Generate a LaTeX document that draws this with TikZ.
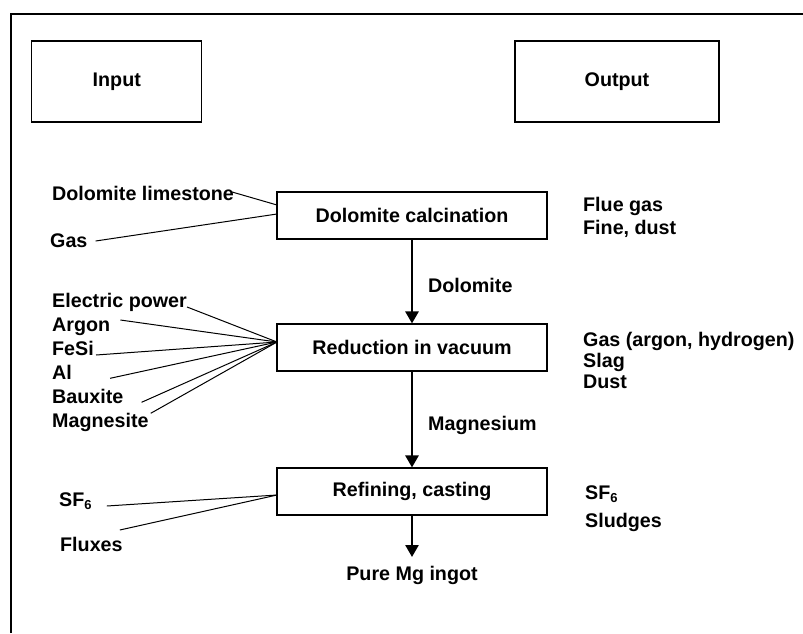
\documentclass[tikz,border=0pt]{standalone}
\usepackage{fontspec}
\setmainfont{Liberation Sans}
\usetikzlibrary{arrows.meta}
\newcommand{\subsix}{\raisebox{-3pt}{\fontsize{13}{13}\selectfont 6}}
\begin{document}
\begin{tikzpicture}[x=1pt,y=-1pt,
  every node/.style={font=\fontsize{19.7}{22}\selectfont\bfseries, inner sep=0pt},
  headbox/.style={draw, line width=1.1pt, minimum height=81pt},
  procbox/.style={draw, line width=1.1pt, minimum width=270pt, minimum height=47pt},
  lbl/.style={anchor=base west},
  feed/.style={line width=1pt},
  flow/.style={line width=2.6pt, -{Triangle[width=13pt,length=12pt]}}
]
\useasboundingbox (0,0) rectangle (803,633);
% outer frame
\draw[line width=2.2pt] (11,633) -- (11,14) -- (803,14);

% column headings
\node[headbox, minimum width=170pt] (input) at (116.8,81.5) {Input};
\node[headbox, minimum width=204pt] (output) at (617,81.5) {Output};

% process steps
\node[procbox] (calc) at (412,215.5) {Dolomite calcination};
\node[procbox] (red) at (412,347.5) {Reduction in vacuum};
\node[procbox] (ref) at (412,491.5) {Refining, casting};
\node (ingot) at (412,575) {Pure Mg ingot};
\coordinate (ingottip) at (412,557);

% main flow
\draw[flow] (calc.south) -- (red.north);
\draw[flow] (red.south) -- (ref.north);
\draw[flow] (ref.south) -- (ingottip);
\node[lbl] (fdol) at (428,292.3) {Dolomite};
\node[lbl] (fmag) at (428,430) {Magnesium};

% inputs: calcination
\node[lbl] (dl) at (52,200) {Dolomite limestone};
\node[lbl] (gas) at (50,247) {Gas};
\coordinate (calcA) at (277,205);
\coordinate (calcB) at (277,214);
\draw[feed] ([shift={(-2pt,8pt)}]dl.base east) -- (calcA);
\draw[feed] ([shift={(8pt,6pt)}]gas.base east) -- (calcB);

% inputs: reduction
\node[lbl] (elec) at (52,307) {Electric power};
\node[lbl] (argon) at (52,331.5) {Argon};
\node[lbl] (fesi) at (52,355) {FeSi};
\node[lbl] (al) at (52,379) {Al};
\node[lbl] (baux) at (52,403.3) {Bauxite};
\node[lbl] (magn) at (52,427.3) {Magnesite};
\coordinate (redin) at (277,342);
\draw[feed] (elec.base east) -- (redin);
\draw[feed] ([shift={(10pt,11.5pt)}]argon.base east) -- (redin);
\draw[feed] ([shift={(2pt,0pt)}]fesi.base east) -- (redin);
\draw[feed] ([shift={(38pt,0.7pt)}]al.base east) -- (redin);
\draw[feed] ([shift={(18pt,1pt)}]baux.base east) -- (redin);
\draw[feed] ([shift={(2pt,14pt)}]magn.base east) -- (redin);

% inputs: refining
\node[lbl] (sfin) at (59,506) {SF\subsix};
\node[lbl] (flux) at (60,551) {Fluxes};
\coordinate (refin) at (277,495);
\draw[feed] ([shift={(15pt,0pt)}]sfin.base east) -- (refin);
\draw[feed] ([shift={(-3pt,21pt)}]flux.base east) -- (refin);

% outputs
\node[lbl] (flue) at (583,211.7) {Flue gas};
\node[lbl] (fine) at (583,234) {Fine, dust};
\node[lbl] (gasout) at (583,346.7) {Gas (argon, hydrogen)};
\node[lbl] (slag) at (583,367.5) {Slag};
\node[lbl] (dust) at (583,388) {Dust};
\node[lbl] (sfout) at (585,499) {SF\subsix};
\node[lbl] (sludge) at (585,527) {Sludges};
\end{tikzpicture}
\end{document}
